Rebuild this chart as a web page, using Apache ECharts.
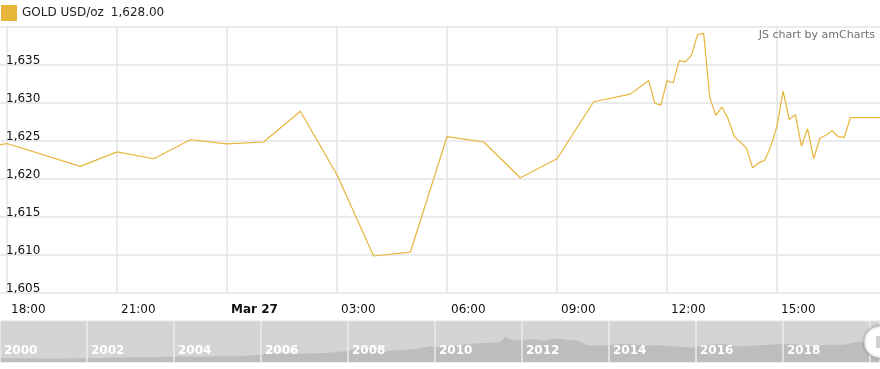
<!DOCTYPE html>
<html>
<head>
<meta charset="utf-8">
<style>
  html, body { margin: 0; padding: 0; background: #ffffff; }
  #chart { width: 880px; height: 369px; }
</style>
<script src="https://cdn.jsdelivr.net/npm/echarts@6/dist/echarts.min.js"></script>
</head>
<body>
<div id="chart"></div>
<script>
// ---- Main series: GOLD USD/oz, intraday (26–27 Mar 2020) ----
const seriesName = 'GOLD USD/oz';
const times = [
  '2020-03-26T17:00', '2020-03-26T18:00', '2020-03-26T20:00', '2020-03-26T21:00',
  '2020-03-26T22:00', '2020-03-26T23:00', '2020-03-27T00:00', '2020-03-27T01:00',
  '2020-03-27T02:00', '2020-03-27T03:00', '2020-03-27T04:00', '2020-03-27T05:00',
  '2020-03-27T06:00', '2020-03-27T07:00', '2020-03-27T08:00', '2020-03-27T09:00',
  '2020-03-27T10:00', '2020-03-27T11:00', '2020-03-27T11:30', '2020-03-27T11:40',
  '2020-03-27T11:50', '2020-03-27T12:00', '2020-03-27T12:10', '2020-03-27T12:20',
  '2020-03-27T12:30', '2020-03-27T12:40', '2020-03-27T12:50', '2020-03-27T13:00',
  '2020-03-27T13:10', '2020-03-27T13:20', '2020-03-27T13:30', '2020-03-27T13:40',
  '2020-03-27T13:50', '2020-03-27T14:10', '2020-03-27T14:20', '2020-03-27T14:30',
  '2020-03-27T14:40', '2020-03-27T14:50', '2020-03-27T15:00', '2020-03-27T15:10',
  '2020-03-27T15:20', '2020-03-27T15:30', '2020-03-27T15:40', '2020-03-27T15:50',
  '2020-03-27T16:00', '2020-03-27T16:10', '2020-03-27T16:20', '2020-03-27T16:30',
  '2020-03-27T16:40', '2020-03-27T16:50', '2020-03-27T17:00', '2020-03-27T17:50'
];
const prices = [
  1623.8, 1624.6, 1621.6, 1623.5,
  1622.6, 1625.1, 1624.55, 1624.8,
  1628.85, 1620.5, 1609.8, 1610.3,
  1625.5, 1624.8, 1620.1, 1622.6,
  1630.1, 1631.1, 1632.9, 1629.9,
  1629.65, 1632.85, 1632.6, 1635.5,
  1635.35, 1636.2, 1638.95, 1639.1,
  1630.65, 1628.3, 1629.4, 1627.85,
  1625.55, 1624.0, 1621.4, 1622.05,
  1622.4, 1624.25, 1626.9, 1631.5,
  1627.75, 1628.4, 1624.25, 1626.55,
  1622.6, 1625.3, 1625.7, 1626.3,
  1625.5, 1625.4, 1628.0, 1628.0
];

// x-axis ticks and their labels
const tickTimes = [
  '2020-03-26T18:00', '2020-03-26T21:00', '2020-03-27T00:00', '2020-03-27T03:00',
  '2020-03-27T06:00', '2020-03-27T09:00', '2020-03-27T12:00', '2020-03-27T15:00'
];
const tickLabels = ['18:00', '21:00', 'Mar 27', '03:00', '06:00', '09:00', '12:00', '15:00'];
const boldTickLabels = ['Mar 27'];

// visible window of the main chart
const viewStart = '2020-03-26T17:48:33';
const viewEnd = '2020-03-27T17:48:33';

// y-axis
const yMin = 1605, yMax = 1640, yStep = 5;

// ---- Navigator (scroller) series: long-term gold price ----
const navYears = [
  2000.0, 2000.5, 2001.0, 2001.5, 2002.0, 2002.5, 2003.0, 2003.5, 2004.0, 2004.5,
  2005.0, 2005.5, 2006.0, 2006.4, 2006.8, 2007.0, 2007.5, 2007.9, 2008.2, 2008.5,
  2008.8, 2009.0, 2009.5, 2009.9, 2010.1, 2010.5, 2010.9, 2011.2, 2011.5, 2011.62,
  2011.75, 2011.9, 2012.2, 2012.5, 2012.8, 2013.0, 2013.3, 2013.5, 2013.9, 2014.2,
  2014.5, 2014.9, 2015.1, 2015.5, 2015.9, 2016.2, 2016.6, 2016.95, 2017.5, 2018.0,
  2018.3, 2018.65, 2019.0, 2019.4, 2019.7, 2019.95, 2020.1, 2020.23
];
const navPrices = [
  285, 285, 266, 268, 280, 315, 345, 350, 410, 395,
  425, 435, 550, 660, 600, 630, 665, 800, 960, 920,
  760, 860, 930, 1180, 1100, 1240, 1380, 1420, 1500, 1880,
  1650, 1600, 1720, 1600, 1770, 1670, 1580, 1240, 1220, 1330,
  1320, 1200, 1260, 1170, 1060, 1250, 1350, 1150, 1250, 1330,
  1320, 1180, 1290, 1280, 1510, 1520, 1640, 1620
];
const navYearStart = 2000, navYearEnd = 2020.23, navYearStep = 2, navShowUntil = 2018;

// -------------------------------------------------------------
const FONT = 'DejaVu Sans, Verdana, sans-serif';
const GOLD = '#e8b53b';
const HOUR = 3600 * 1000;
const baseMs = Date.parse(tickTimes[0]);
const toHours = t => (Date.parse(t) - baseMs) / HOUR;

const tickValues = tickTimes.map(toHours);
const lineData = times.map((t, i) => [toHours(t), prices[i]]);
const navData = navYears.map((y, i) => [y, navPrices[i]]);

function fmtThousands(v, decimals) {
  const s = v.toFixed(decimals);
  const parts = s.split('.');
  parts[0] = parts[0].replace(/\B(?=(\d{3})+(?!\d))/g, ',');
  return parts.join('.');
}
const lastPrice = fmtThousands(prices[prices.length - 1], 2);

const chart = echarts.init(document.getElementById('chart'), null, { renderer: 'canvas' });

chart.setOption({
  animation: false,
  backgroundColor: '#ffffff',
  textStyle: { fontFamily: FONT },
  title: {
    text: 'JS chart by amCharts',
    right: 5,
    top: 30,
    padding: 0,
    textStyle: { fontFamily: FONT, fontSize: 11, fontWeight: 'normal', color: '#707070' }
  },
  legend: {
    left: 1,
    top: 5,
    padding: 0,
    icon: 'rect',
    itemWidth: 16,
    itemHeight: 16,
    itemGap: 10,
    selectedMode: false,
    data: [seriesName],
    formatter: function (name) { return '{a|' + name + '}{b|' + lastPrice + '}'; },
    textStyle: {
      fontFamily: FONT,
      fontSize: 12,
      color: '#222222',
      rich: {
        a: { fontFamily: FONT, fontSize: 12, color: '#222222' },
        b: { fontFamily: FONT, fontSize: 12, color: '#222222', padding: [0, 0, 0, 7] }
      }
    }
  },
  grid: [
    { left: 0, right: 0, top: 26.5, bottom: 76.5, containLabel: false, outerBoundsMode: 'none' },
    {
      left: 0, right: 0, top: 321, height: 41, containLabel: false, outerBoundsMode: 'none',
      show: true, backgroundColor: '#d4d4d4', borderColor: '#e4e4e4', borderWidth: 1
    }
  ],
  xAxis: [
    {
      type: 'value',
      gridIndex: 0,
      min: toHours(viewStart),
      max: toHours(viewEnd),
      axisLine: { show: false },
      axisTick: { show: false, customValues: tickValues },
      splitLine: { show: true, lineStyle: { color: '#e4e4e4', width: 1.5 } },
      axisLabel: {
        customValues: tickValues,
        margin: 11,
        align: 'left',
        padding: [0, 0, 0, 4],
        fontFamily: FONT,
        fontSize: 12,
        color: '#111111',
        formatter: function (value) {
          let i = -1;
          for (let k = 0; k < tickValues.length; k++) {
            if (Math.abs(tickValues[k] - value) < 1e-6) { i = k; break; }
          }
          const lab = i >= 0 ? tickLabels[i] : '';
          return boldTickLabels.indexOf(lab) >= 0 ? '{b|' + lab + '}' : lab;
        },
        rich: {
          b: { fontFamily: FONT, fontSize: 12, fontWeight: 'bold', color: '#111111' }
        }
      }
    },
    {
      type: 'value',
      gridIndex: 1,
      z: 5,
      min: navYearStart,
      max: navYearEnd,
      interval: navYearStep,
      axisLine: { show: false },
      axisTick: { show: false },
      splitLine: { show: true, lineStyle: { color: '#ececec', width: 1.5 } },
      axisLabel: {
        inside: true,
        margin: 5,
        align: 'left',
        verticalAlign: 'bottom',
        padding: [0, 0, 0, 4],
        showMaxLabel: false,
        fontFamily: FONT,
        fontSize: 12,
        fontWeight: 'bold',
        color: '#ffffff',
        formatter: function (v) { return v <= navShowUntil ? String(Math.round(v)) : ''; }
      }
    }
  ],
  yAxis: [
    {
      type: 'value',
      gridIndex: 0,
      min: yMin,
      max: yMax,
      interval: yStep,
      axisLine: { show: false },
      axisTick: { show: false },
      splitLine: { show: true, lineStyle: { color: '#e4e4e4', width: 1.5 } },
      axisLabel: {
        inside: true,
        margin: 6,
        align: 'left',
        verticalAlign: 'bottom',
        lineHeight: 7,
        fontFamily: FONT,
        fontSize: 12,
        color: '#111111',
        formatter: function (v) { return v >= yMax ? '' : fmtThousands(v, 0); }
      }
    },
    {
      type: 'value',
      gridIndex: 1,
      min: 0,
      max: 3050,
      show: false,
      splitLine: { show: false }
    }
  ],
  series: [
    {
      name: seriesName,
      type: 'line',
      xAxisIndex: 0,
      yAxisIndex: 0,
      data: lineData,
      color: GOLD,
      showSymbol: false,
      symbol: 'none',
      clip: true,
      lineStyle: { color: GOLD, width: 1.2 },
      emphasis: { disabled: true }
    },
    {
      name: 'navigator',
      type: 'line',
      xAxisIndex: 1,
      yAxisIndex: 1,
      data: navData,
      showSymbol: false,
      symbol: 'none',
      lineStyle: { width: 0, color: '#bdbdbd' },
      areaStyle: { color: '#bdbdbd', opacity: 1 },
      emphasis: { disabled: true },
      z: 1
    }
  ],
  graphic: [
    {
      type: 'circle',
      shape: { cx: 880, cy: 342, r: 16 },
      style: { fill: '#ffffff', stroke: '#c8c8c8', lineWidth: 1, shadowBlur: 3, shadowColor: 'rgba(0,0,0,0.25)' },
      z: 100
    },
    {
      type: 'rect',
      shape: { x: 876, y: 336, width: 4, height: 12 },
      style: { fill: '#d0d0d0' },
      z: 101
    }
  ]
});
</script>
</body>
</html>
